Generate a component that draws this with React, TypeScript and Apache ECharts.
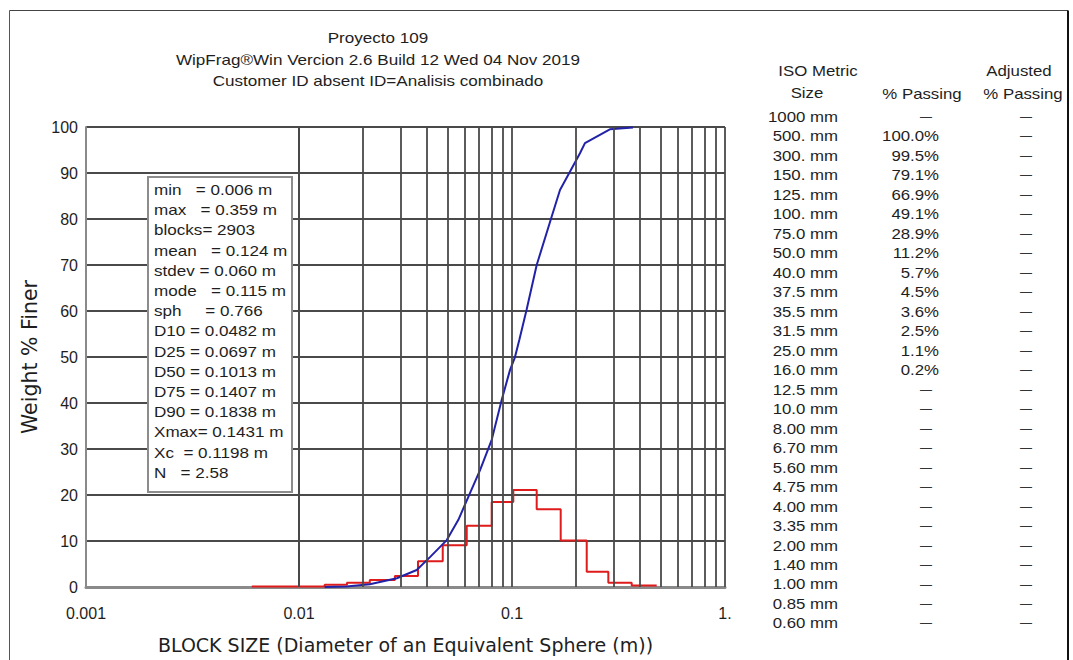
import React, { useEffect, useRef } from "react";
import * as echarts from "echarts";

const TITLE_LINES = [
  "Proyecto 109",
  "WipFrag®Win Vercion 2.6 Build 12 Wed 04 Nov 2019",
  "Customer ID absent ID=Analisis combinado",
];

const X_TITLE = "BLOCK SIZE (Diameter of an Equivalent Sphere (m))";
const Y_TITLE = "Weight % Finer";
const X_TICK_LABELS = ["0.001", "0.01", "0.1", "1."];

// cumulative curve (size in m, % passing)
const CUM_SIZE = [0.0132, 0.0167, 0.0215, 0.0288, 0.0357, 0.0412, 0.0494, 0.056, 0.0635, 0.0708, 0.0803, 0.0895, 0.0979, 0.103, 0.1082, 0.117, 0.1306, 0.1535, 0.168, 0.2085, 0.22, 0.288, 0.37];
const CUM_PCT = [0, 0.1, 0.6, 1.9, 3.7, 6.5, 10.2, 14.6, 20.4, 25.4, 32, 40.7, 47.2, 49.8, 53.7, 60.2, 70, 80.5, 86.3, 94.3, 96.5, 99.5, 99.9];

// histogram bins (edges in m, % retained)
const BIN_EDGES = [0.006, 0.0132, 0.0168, 0.0215, 0.0282, 0.0362, 0.0473, 0.0613, 0.0803, 0.1014, 0.1306, 0.1693, 0.2243, 0.2833, 0.3647, 0.478];
const BIN_PCT = [0.1, 0.5, 0.9, 1.5, 2.4, 5.6, 9.1, 13.3, 18.5, 21.1, 16.9, 10.1, 3.3, 0.9, 0.3];

const STATS = [
  "min   = 0.006 m",
  "max   = 0.359 m",
  "blocks= 2903",
  "mean   = 0.124 m",
  "stdev = 0.060 m",
  "mode   = 0.115 m",
  "sph     = 0.766",
  "D10 = 0.0482 m",
  "D25 = 0.0697 m",
  "D50 = 0.1013 m",
  "D75 = 0.1407 m",
  "D90 = 0.1838 m",
  "Xmax= 0.1431 m",
  "Xc  = 0.1198 m",
  "N   = 2.58",
];

const ISO_SIZES = ["1000 mm", "500. mm", "300. mm", "150. mm", "125. mm", "100. mm", "75.0 mm", "50.0 mm", "40.0 mm", "37.5 mm", "35.5 mm", "31.5 mm", "25.0 mm", "16.0 mm", "12.5 mm", "10.0 mm", "8.00 mm", "6.70 mm", "5.60 mm", "4.75 mm", "4.00 mm", "3.35 mm", "2.00 mm", "1.40 mm", "1.00 mm", "0.85 mm", "0.60 mm"];
const PASSING: (number | null)[] = [null, 100.0, 99.5, 79.1, 66.9, 49.1, 28.9, 11.2, 5.7, 4.5, 3.6, 2.5, 1.1, 0.2, null, null, null, null, null, null, null, null, null, null, null, null, null];

const GRID_DECADES = [0.001, 0.01, 0.1];
const GRID_MULTS = [1, 2, 3, 4, 5, 6, 7, 8, 9];

const FONT = "'Liberation Sans', Arial, sans-serif";
const TEXT_COLOR = "#1e1e1e";
const GRID_COLOR = "#4a4a4a";
const SX = 1.2;

function txt(text: string, x: number, y: number, align: string, size = 14, scaleX = SX, color = TEXT_COLOR) {
  return {
    type: "text",
    x,
    y,
    scaleX,
    silent: true,
    z: 100,
    style: {
      text: text.replace(/ /g, "\u00a0"),
      fontFamily: FONT,
      fontSize: size,
      fill: color,
      align,
      textAlign: align,
      verticalAlign: "middle",
      textVerticalAlign: "middle",
    },
  };
}

export default function App() {
  const ref = useRef<HTMLDivElement>(null);
  useEffect(() => {
    if (!ref.current) return;
    const chart = echarts.init(ref.current, null, { renderer: "svg" });

    const vgrid: number[] = [];
    GRID_DECADES.forEach((d) => GRID_MULTS.forEach((m) => vgrid.push(+(d * m).toPrecision(3))));
    vgrid.push(1);
    const vgridLines = vgrid.filter((v) => v > 0.001);

    const histData: number[][] = [];
    BIN_PCT.forEach((p, i) => {
      histData.push([BIN_EDGES[i], p]);
      histData.push([BIN_EDGES[i + 1], p]);
    });
    const cumData = CUM_SIZE.map((s, i) => [s, CUM_PCT[i]]);

    const graphics: any[] = [];
    // frame
    graphics.push({ type: "line", silent: true, shape: { x1: 9.5, y1: 10.5, x2: 1068, y2: 10.5 }, style: { stroke: "#444", lineWidth: 1 } });
    graphics.push({ type: "line", silent: true, shape: { x1: 9.5, y1: 10.5, x2: 9.5, y2: 660 }, style: { stroke: "#555", lineWidth: 1 } });
    graphics.push({ type: "line", silent: true, shape: { x1: 1068, y1: 10.5, x2: 1068, y2: 660 }, style: { stroke: "#111", lineWidth: 2 } });

    // titles
    const titleY = [38, 60, 81];
    TITLE_LINES.forEach((t, i) => graphics.push(txt(t, 378, titleY[i], "center", 14, 1.22)));

    // stats box
    graphics.push({
      type: "rect",
      silent: true,
      z: 90,
      shape: { x: 148, y: 177, width: 144, height: 315 },
      style: { fill: "#fff", stroke: "#8c8c8c", lineWidth: 2 },
    });
    STATS.forEach((s, i) => graphics.push(txt(s, 154, 190 + i * 20.2, "left", 14, 1.22)));

    // table headers
    graphics.push(txt("ISO Metric", 818, 71, "center"));
    graphics.push(txt("Size", 807, 93, "center"));
    graphics.push(txt("% Passing", 922, 94, "center"));
    graphics.push(txt("Adjusted", 1019, 71, "center"));
    graphics.push(txt("% Passing", 1023, 94, "center"));

    ISO_SIZES.forEach((s, i) => {
      const y = 117 + i * 19.48;
      graphics.push(txt(s, 838, y, "right"));
      const p = PASSING[i];
      if (p === null) graphics.push(txt("—", 926, y, "center", 12, 1, "#333"));
      else graphics.push(txt(p.toFixed(1) + "%", 939, y, "right"));
      graphics.push(txt("—", 1026, y, "center", 12, 1, "#333"));
    });

    const option: any = {
      animation: false,
      backgroundColor: "#fff",
      grid: { left: 86, top: 127, width: 639, height: 460, containLabel: false },
      xAxis: {
        type: "log",
        logBase: 10,
        min: 0.001,
        max: 1,
        axisLine: { show: true, onZero: false, lineStyle: { color: "#8a8a8a", width: 3 } },
        axisTick: { show: false },
        splitLine: { show: false },
        axisLabel: {
          fontFamily: FONT,
          fontSize: 16,
          color: TEXT_COLOR,
          margin: 18,
          formatter: (v: number) => X_TICK_LABELS[Math.round(Math.log10(v)) + 3] ?? "",
        },
        name: X_TITLE,
        nameLocation: "middle",
        nameGap: 48,
        nameTextStyle: { fontFamily: "'DejaVu Sans', sans-serif", fontSize: 19, color: TEXT_COLOR },
      },
      yAxis: {
        type: "value",
        min: 0,
        max: 100,
        interval: 10,
        axisLine: { show: true, lineStyle: { color: "#8a8a8a", width: 2 } },
        axisTick: { show: false },
        splitLine: { show: true, lineStyle: { color: GRID_COLOR, width: 1.8 } },
        axisLabel: { fontFamily: FONT, fontSize: 16, color: TEXT_COLOR, margin: 8 },
        name: Y_TITLE,
        nameLocation: "middle",
        nameGap: 46,
        nameTextStyle: { fontFamily: "'DejaVu Sans', sans-serif", fontSize: 20.5, color: TEXT_COLOR },
      },
      series: [
        {
          type: "line",
          data: [],
          z: 1,
          silent: true,
          markLine: {
            silent: true,
            symbol: ["none", "none"],
            label: { show: false },
            lineStyle: { color: GRID_COLOR, width: 1.8, type: "solid" },
            emphasis: { disabled: true },
            data: vgridLines.map((v) => ({ xAxis: v })),
          },
        },
        {
          type: "line",
          data: histData,
          symbol: "none",
          z: 3,
          lineStyle: { color: "#e01b1b", width: 2 },
        },
        {
          type: "line",
          data: cumData,
          symbol: "none",
          z: 4,
          lineStyle: { color: "#2222a8", width: 2 },
        },
      ],
      graphic: graphics,
    };
    chart.setOption(option);
    return () => chart.dispose();
  }, []);

  return <div ref={ref} style={{ position: "fixed", left: 0, top: 0, width: 1073, height: 660 }} />;
}
